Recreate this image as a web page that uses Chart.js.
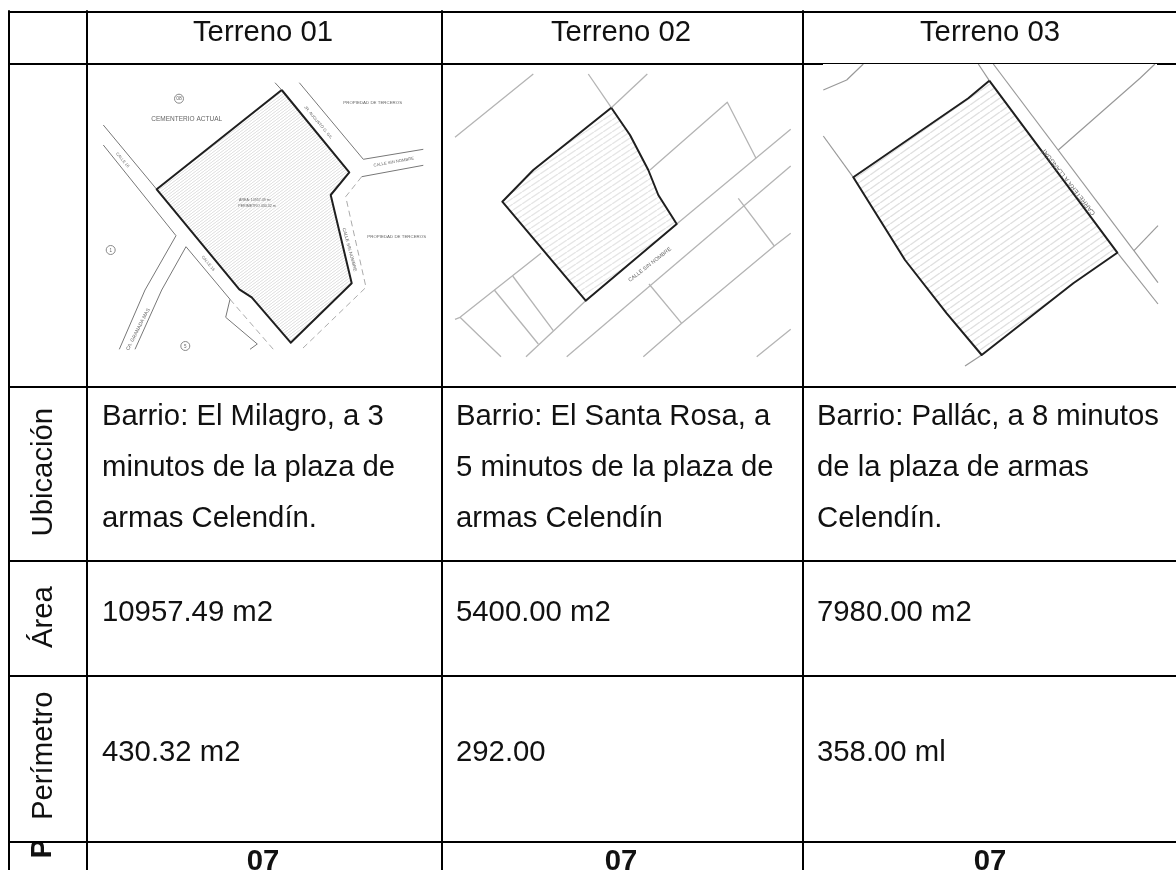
<!DOCTYPE html>
<html>
<head>
<meta charset="utf-8">
<title>Terrenos</title>
<script src="https://cdn.jsdelivr.net/npm/chart.js@4/dist/chart.umd.js"></script>
<style>
  html, body { margin: 0; padding: 0; background: #fff; overflow: hidden; }
  canvas { display: block; }
</style>
</head>
<body>
<canvas id="table" width="1176" height="870"></canvas>
<script>
// table text
const headers = ['Terreno 01', 'Terreno 02', 'Terreno 03'];
const rowNames = ['Ubicación', 'Área', 'Perímetro'];
const ubicacion = [
  ['Barrio: El Milagro, a 3', 'minutos de la plaza de', 'armas Celendín.'],
  ['Barrio: El Santa Rosa, a', '5 minutos de la plaza de', 'armas Celendín'],
  ['Barrio: Pallác, a 8 minutos', 'de la plaza de armas', 'Celendín.']
];
const areas = ['10957.49 m2', '5400.00 m2', '7980.00 m2'];
const perimetros = ['430.32 m2', '292.00', '358.00 ml'];
const lastRow = ['07', '07', '07'];

// grid
const gridY = [12, 387, 561, 676, 842];
const gridX = [9, 87, 442, 803];
const columnLeft = [102, 456, 817];
const columnMid = [263, 621, 990];

// terreno 01
const plot1 = [[281.7,90],[349.3,172.3],[330.7,195],[351.7,283.3],[290.7,342.7],[251.7,297.3],[239.3,289.3],[156.7,189.3],[281.7,90]];
const roads1 = [
  [[103.3,125],[156.7,189.3]],
  [[103.3,145],[176,235.7],[145,290],[119.3,349.3]],
  [[186,246.7],[230,299.3],[225.7,317.3],[257.3,344],[250,349.3]],
  [[186,246.7],[161.7,290],[135,349.3]],
  [[275,82.7],[281.7,90]],
  [[299.3,82.7],[363.3,159.3],[423.3,149.3]],
  [[423.3,165.3],[361.7,176.7]]
];
const dashed1 = [
  [[361.7,176.7],[345.7,196.7],[366,287.3],[301.7,349.3]],
  [[230,299.3],[273.3,349.3]]
];
const marks1 = [[179,98.7],[110.7,250],[185.3,346]];

// terreno 02
const plot2 = [[611.3,107.7],[630,135],[648.3,170],[658.3,195],[676.7,224],[585.7,300.7],[502.3,201.7],[533.3,170],[611.3,107.7]];
const roads2 = [
  [[455,137.3],[533.3,74]],
  [[588.3,74],[611.3,107.7]],
  [[611.3,107.7],[647.3,74]],
  [[650,170],[727.3,102.3],[756,158.3]],
  [[676.7,224],[790.7,129.3]],
  [[566.7,356.7],[790.7,166]],
  [[738.3,198.3],[774.3,246]],
  [[643.3,356.7],[681.7,323.3],[774.3,246],[790.7,233.3]],
  [[649,284],[681.7,323.3]],
  [[541,253.3],[460,317.3],[455,319.3]],
  [[585.7,300.7],[526,356.7]],
  [[494.3,290],[538.3,344]],
  [[512.7,276],[553.3,330.7]],
  [[460,317.3],[478.3,335],[501,356.7]],
  [[756.7,356.7],[790.7,329.3]]
];

// terreno 03
const plot3 = [[989.3,80.7],[1117.3,252.7],[1073.3,283.3],[981.7,355],[946.7,313.3],[905,260],[853.3,177.3],[968.3,98.3],[989.3,80.7]];
const roads3 = [
  [[978.3,64],[989.3,80.7]],
  [[993.3,64],[1158,282.7]],
  [[1117.3,252.7],[1158,304]],
  [[823.3,90],[846.7,80],[863.3,64]],
  [[823.3,136],[853.3,177.3]],
  [[1058.3,150],[1140,78.3],[1155,64]],
  [[1134,250.7],[1158,225.7]],
  [[965,366],[981.7,355]]
];

// small labels inside the plans: text, x, y, rotation, font size
const planLabels = [
  ['CEMENTERIO ACTUAL', 186.7, 118.3, 0, 6.5],
  ['PROPIEDAD DE TERCEROS', 372.7, 102, 0, 4.4],
  ['PROPIEDAD DE TERCEROS', 396.7, 236.7, 0, 4.4],
  ['CALLE SIN NOMBRE', 394, 161.7, -10, 4.2],
  ['JR. AUGUSTO G. GIL', 317.3, 121.7, 50, 4.2],
  ['CALLE 16', 121.7, 159.3, 50, 4],
  ['CALLE 16', 207.3, 262.7, 50, 4],
  ['CA. GRANADA MAS', 139.3, 328.3, -63, 5],
  ['CALLE SIN NOMBRE', 348.3, 248.3, 75, 4.6],
  ['AREA: 10957.49 m²', 255, 200, 0, 3.6],
  ['PERIMETRO 430.32 m', 257, 205.5, 0, 3.6],
  ['08', 179, 98.7, 0, 5],
  ['1', 110.7, 250, 0, 4.5],
  ['5', 185.3, 346, 0, 4.5],
  ['CALLE SIN NOMBRE', 650.7, 264, -38, 5.4],
  ['CARRETERA A LLANGUAT', 1070, 178.3, 232, 6.6]
];

const textFont = '"Liberation Sans", Arial, sans-serif';
const textSize = 29.3;

function toPoints(list) {
  return list.map(function (p) { return { x: p[0], y: p[1] }; });
}

// diagonal stripes for the plots
function hatch(w, h, color, width) {
  const c = document.createElement('canvas');
  c.width = w;
  c.height = h;
  const g = c.getContext('2d');
  g.fillStyle = '#fff';
  g.fillRect(0, 0, w, h);
  g.strokeStyle = color;
  g.lineWidth = width;
  [[-w, 0], [0, 0], [w, 0]].forEach(function (o) {
    g.beginPath();
    g.moveTo(o[0], h);
    g.lineTo(o[0] + w, 0);
    g.stroke();
  });
  return g.createPattern(c, 'repeat');
}

function lineSet(points, color, width, dash) {
  return {
    data: toPoints(points),
    showLine: true,
    borderColor: color,
    borderWidth: width,
    borderDash: dash || [],
    borderCapStyle: 'butt',
    borderJoinStyle: 'round',
    pointRadius: 0,
    fill: false
  };
}

function plotSet(points, pattern, width) {
  const set = lineSet(points, '#1f1f1f', width);
  set.fill = 'shape';
  set.backgroundColor = pattern;
  return set;
}

// the first dataset is drawn last, so grid goes first
const datasets = [];
gridY.forEach(function (y) {
  datasets.push(lineSet([[8, y], [1176, y]], '#000', 2));
});
gridX.forEach(function (x) {
  datasets.push(lineSet([[x, 11], [x, 870]], '#000', 2));
});
datasets.push(lineSet([[8, 64], [823, 64]], '#000', 2));
datasets.push(lineSet([[823, 63.5], [1157, 63.5]], '#000', 1));
datasets.push(lineSet([[1157, 64], [1176, 64]], '#000', 2));

datasets.push(plotSet(plot1, hatch(4, 3, '#dedede', 1), 2));
datasets.push(plotSet(plot2, hatch(9, 6, '#e6e6e6', 1.4), 2));
datasets.push(plotSet(plot3, hatch(10, 7, '#e0e0e0', 1.4), 2));

roads1.forEach(function (r) { datasets.push(lineSet(r, '#777', 1)); });
dashed1.forEach(function (r) { datasets.push(lineSet(r, '#aaa', 1, [6, 4])); });
roads2.forEach(function (r) { datasets.push(lineSet(r, '#b4b4b4', 1.3)); });
roads3.forEach(function (r) { datasets.push(lineSet(r, '#999', 1.2)); });

datasets.push({
  data: toPoints(marks1),
  showLine: false,
  pointRadius: 4.5,
  pointBackgroundColor: '#fff',
  pointBorderColor: '#888',
  pointBorderWidth: 1
});

function put(ctx, text, x, y, align, font, rotation) {
  ctx.save();
  ctx.translate(x, y);
  if (rotation) ctx.rotate(rotation * Math.PI / 180);
  ctx.font = font;
  ctx.textAlign = align;
  ctx.textBaseline = 'alphabetic';
  ctx.fillText(text, 0, 0);
  ctx.restore();
}

const tableText = {
  id: 'tableText',
  afterDatasetsDraw: function (chart) {
    const ctx = chart.ctx;
    const sx = function (v) { return chart.scales.x.getPixelForValue(v); };
    const sy = function (v) { return chart.scales.y.getPixelForValue(v); };
    const normal = textSize + 'px ' + textFont;
    const bold = 'bold ' + textSize + 'px ' + textFont;

    ctx.fillStyle = '#111';
    headers.forEach(function (t, i) {
      put(ctx, t, sx(columnMid[i]), sy(40.5), 'center', normal);
    });
    ubicacion.forEach(function (lines, i) {
      put(ctx, lines[0], sx(columnLeft[i]), sy(425), 'left', normal);
      put(ctx, lines[1], sx(columnLeft[i]), sy(476), 'left', normal);
      put(ctx, lines[2], sx(columnLeft[i]), sy(526.5), 'left', normal);
    });
    areas.forEach(function (t, i) {
      put(ctx, t, sx(columnLeft[i]), sy(620.5), 'left', normal);
    });
    perimetros.forEach(function (t, i) {
      put(ctx, t, sx(columnLeft[i]), sy(761), 'left', normal);
    });
    lastRow.forEach(function (t, i) {
      put(ctx, t, sx(columnMid[i]), sy(870), 'center', bold);
    });

    put(ctx, rowNames[0], sx(51.5), sy(536.5), 'left', normal, -90);
    put(ctx, rowNames[1], sx(51.5), sy(648), 'left', normal, -90);
    put(ctx, rowNames[2], sx(51.5), sy(820), 'left', normal, -90);

    // the next row name is cut by the cell, only its first letter shows
    ctx.save();
    ctx.beginPath();
    ctx.rect(sx(10), sy(843), 70, 27);
    ctx.clip();
    put(ctx, 'P', sx(50.7), sy(858.5), 'left', bold, -90);
    ctx.restore();

    ctx.fillStyle = '#666';
    planLabels.forEach(function (l) {
      put(ctx, l[0], sx(l[1]), sy(l[2]) + l[4] * 0.35, 'center', l[4] + 'px ' + textFont, l[3]);
    });
  }
};

new Chart(document.getElementById('table'), {
  type: 'scatter',
  data: { datasets: datasets },
  options: {
    responsive: false,
    animation: false,
    clip: false,
    layout: { padding: 0, autoPadding: false },
    plugins: { legend: { display: false }, tooltip: { enabled: false } },
    scales: {
      x: { type: 'linear', display: false, min: 0, max: 1176 },
      y: { type: 'linear', display: false, min: 0, max: 870, reverse: true }
    }
  },
  plugins: [tableText]
});
</script>
</body>
</html>
